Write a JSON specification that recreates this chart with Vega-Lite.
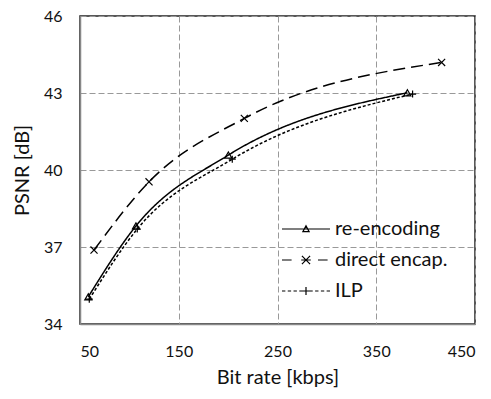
{
  "$schema": "https://vega.github.io/schema/vega-lite/v6.json",
  "width": 395,
  "height": 308,
  "autosize": {"type": "none"},
  "padding": {"left": 80, "top": 16, "right": 16, "bottom": 75},
  "background": "white",
  "config": {
    "font": "Lato",
    "view": {"stroke": "#222", "strokeWidth": 1.5},
    "axis": {
      "grid": true, "gridColor": "#999", "gridDash": [6, 3], "gridWidth": 1,
      "domain": true, "domainColor": "#888", "domainWidth": 1.5,
      "ticks": false, "labelFontSize": 16, "titleFontSize": 20,
      "labelColor": "#111", "titleColor": "#111", "titleFontWeight": "normal",
      "labelFont": "Lato", "titleFont": "Lato"
    }
  },
  "data": {"values": [
    {"series": "re-encoding", "rate": 58.4, "psnr": 35.06},
    {"series": "re-encoding", "rate": 106.7, "psnr": 37.82},
    {"series": "re-encoding", "rate": 200.2, "psnr": 40.58},
    {"series": "re-encoding", "rate": 381.5, "psnr": 43.01},
    {"series": "direct encap.", "rate": 64.2, "psnr": 36.88},
    {"series": "direct encap.", "rate": 119.9, "psnr": 39.54},
    {"series": "direct encap.", "rate": 216.4, "psnr": 42.01},
    {"series": "direct encap.", "rate": 416.2, "psnr": 44.19},
    {"series": "ILP", "rate": 59.4, "psnr": 34.97},
    {"series": "ILP", "rate": 108.0, "psnr": 37.7},
    {"series": "ILP", "rate": 204.2, "psnr": 40.42},
    {"series": "ILP", "rate": 386.8, "psnr": 42.96}
  ]},
  "encoding": {
    "x": {"field": "rate", "type": "quantitative",
      "scale": {"domain": [50, 450], "nice": false, "zero": false},
      "axis": {"values": [50, 150, 250, 350, 450], "title": "Bit rate [kbps]", "labelPadding": 19, "titlePadding": 8}},
    "y": {"field": "psnr", "type": "quantitative",
      "scale": {"domain": [34, 46], "nice": false, "zero": false},
      "axis": {"values": [34, 37, 40, 43, 46], "title": "PSNR [dB]", "labelPadding": 18, "titlePadding": 11}}
  },
  "layer": [
    {
      "mark": {"type": "line", "interpolate": "monotone", "color": "black", "strokeWidth": 1.5},
      "encoding": {
        "strokeDash": {"field": "series", "type": "nominal",
          "scale": {"domain": ["re-encoding", "direct encap.", "ILP"], "range": [[1, 0], [12, 6], [3, 2]]},
          "legend": null}
      }
    },
    {
      "mark": {"type": "point", "filled": false, "color": "black", "strokeWidth": 1.2, "opacity": 1, "size": 50},
      "encoding": {
        "shape": {"field": "series", "type": "nominal",
          "scale": {"domain": ["re-encoding", "direct encap.", "ILP"],
            "range": ["triangle-up", "M-1,-1L1,1M-1,1L1,-1", "M-1,0H1M0,-1V1"]},
          "legend": null}
      }
    },
    {
      "transform": [{"filter": "datum.rate < 0"}],
      "mark": {"type": "point", "filled": false, "color": "black", "opacity": 1},
      "encoding": {
        "shape": {"field": "series", "type": "nominal",
          "scale": {"domain": ["re-encoding", "direct encap.", "ILP"],
            "range": [
              "M-4,0H4M-0.52,0.44L0.52,0.44L0,-0.52Z",
              "M-4,0H-2.4M-0.8,0H0.8M2,0H3.6M-0.68,-0.68L0.68,0.68M-0.68,0.68L0.68,-0.68",
              "M-4,0H-3.44M-3.04,0H-2.48M-2.08,0H-1.52M-1.12,0H-0.56M-0.68,0H0.68M0,-0.68V0.68M0.56,0H1.12M1.52,0H2.08M2.48,0H3.04M3.44,0H4"
            ]},
          "legend": {"orient": "none", "legendX": 216, "legendY": 203, "title": null,
            "symbolSize": 144, "symbolStrokeColor": "black", "symbolFillColor": "transparent",
            "symbolStrokeWidth": 1.2, "labelFontSize": 20, "labelFont": "Lato", "labelColor": "#111",
            "labelOffset": 19, "rowPadding": 11}}
      }
    }
  ],
  "resolve": {"scale": {"shape": "independent"}}
}
